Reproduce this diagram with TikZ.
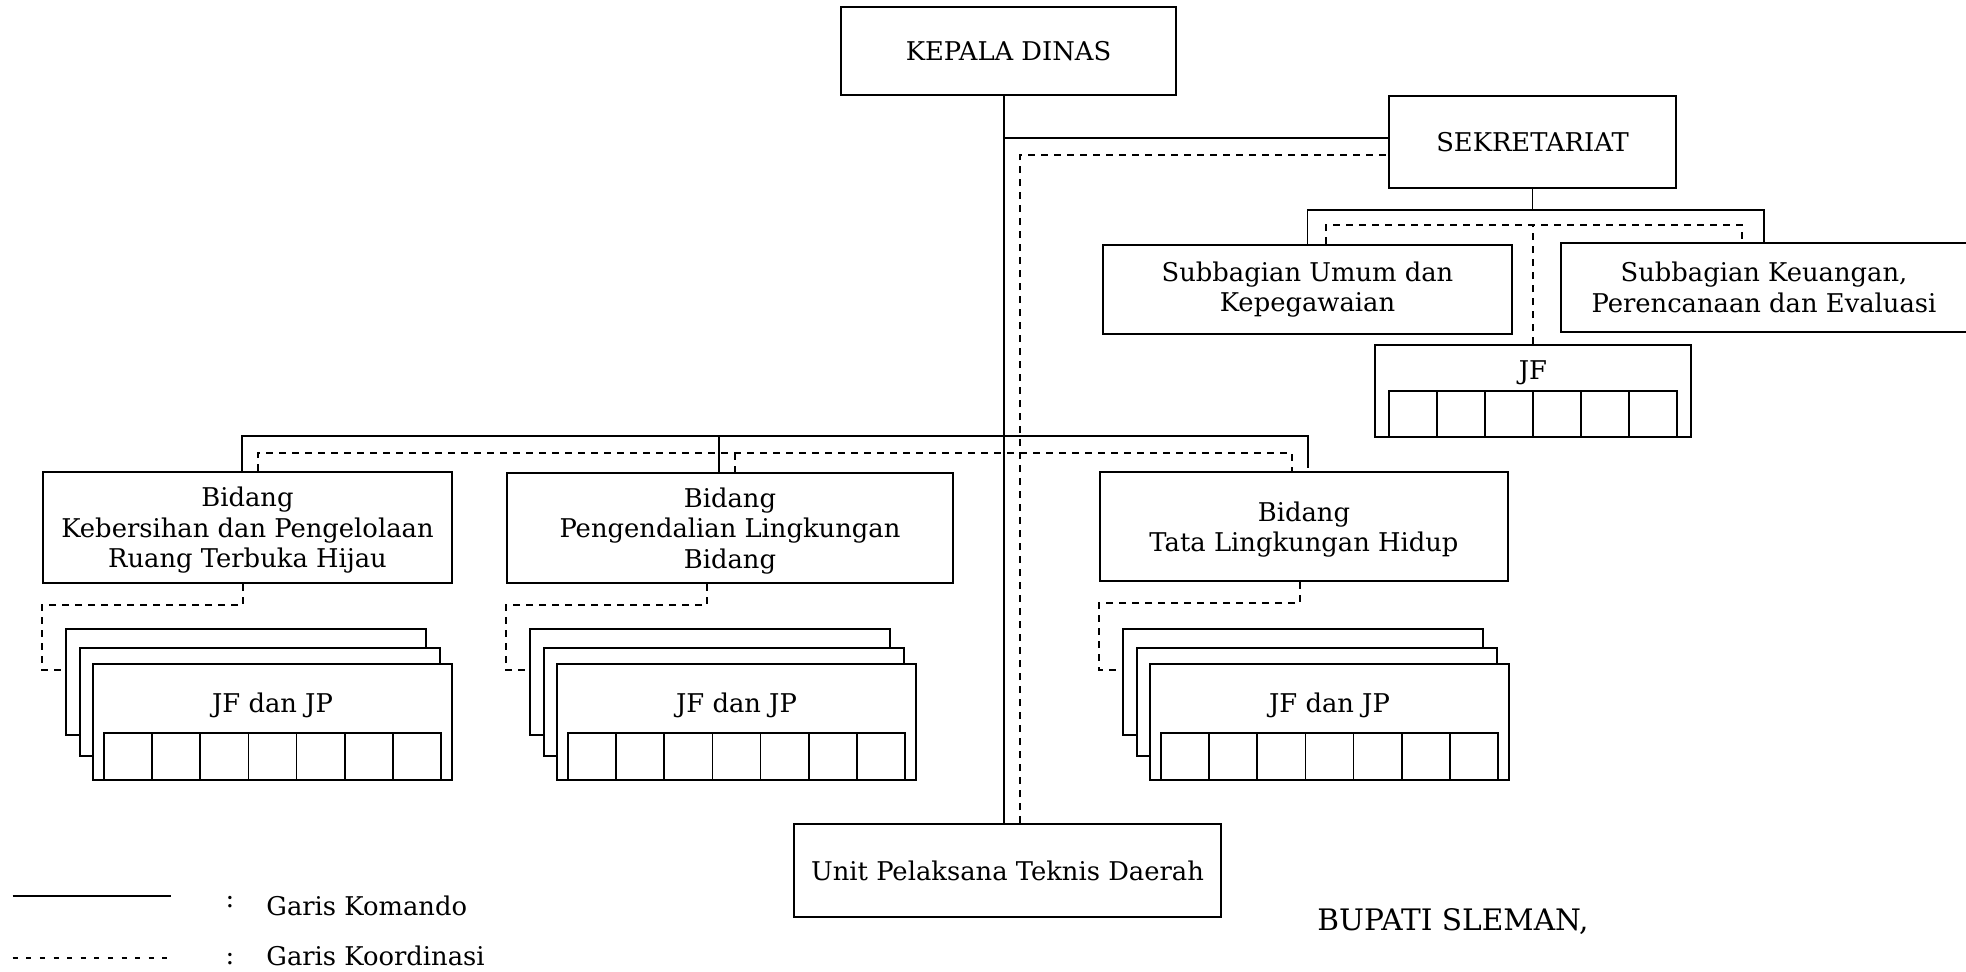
\documentclass[tikz,border=0pt]{standalone}
\usepackage{fontspec}
\setmainfont{DejaVu Serif}
\usepackage{tikz}
\newcommand{\teks}{\fontsize{12.9}{15.3}\selectfont}
\tikzset{
	kotak/.style={draw, line width=1pt, align=center, inner sep=0pt, font=\teks},
	lapis/.style={draw, fill=white, line width=1pt, inner sep=0pt},
	komando/.style={line width=0.75pt},
	koordinasi/.style={line width=0.75pt, dash pattern=on 3.5pt off 3pt},
	tulisan/.style={inner sep=0pt, font=\teks}
}

\begin{document}
\begin{tikzpicture}[x=0.5pt, y=-0.5pt]
		\useasboundingbox (0,0) rectangle (1966,971);

		% Draw the boxes
		\node[kotak, minimum width=167.5pt, minimum height=44pt] (kadis) at (1008.5,51) {KEPALA DINAS};
		\node[kotak, minimum width=143.5pt, minimum height=46pt] (sekre) at (1532.5,142) {SEKRETARIAT};
		\node[kotak, minimum width=204.5pt, minimum height=44.5pt] (umum) at (1307.5,289.5) {Subbagian Umum dan\\Kepegawaian};
		\node[kotak, minimum width=203pt, minimum height=44.5pt] (keu) at (1764,287.5) {Subbagian Keuangan,\\Perencanaan dan Evaluasi};
		\node[kotak, minimum width=158pt, minimum height=46pt] (jf) at (1533,391) {};
		\node[tulisan] (jf-t) at (1533,373) {JF};
		\node[kotak, text depth=0pt, minimum width=204.5pt, minimum height=55.5pt] (bid1) at (247.5,527.5) {Bidang\\Kebersihan dan Pengelolaan\\Ruang Terbuka Hijau};
		\node[kotak, text depth=0pt, minimum width=223pt, minimum height=55pt] (bid2) at (730,528) {Bidang\\Pengendalian Lingkungan\\Bidang};
		\node[kotak, text depth=0pt, minimum width=204pt, minimum height=54.5pt] (bid3) at (1304,526.5) {Bidang\\Tata Lingkungan Hidup};
		\node[kotak, minimum width=213.5pt, minimum height=46.5pt] (upt) at (1007.5,870.5) {Unit Pelaksana Teknis Daerah};

		% Draw the cells of JF
		\foreach \i in {0,...,5}
			\draw[line width=0.9pt] (1389+\i*48,391) rectangle ++(48,46);

		% Draw the stacks of JF dan JP
		\foreach \b/\L in {bid1/43,bid2/507,bid3/1100}{
			\node[lapis, minimum width=180pt, minimum height=53pt] (\b-a) at (\L+203,682) {};
			\node[lapis, minimum width=180pt, minimum height=54pt] (\b-b) at (\L+217,702) {};
			\node[lapis, minimum width=179.5pt, minimum height=58pt] (\b-c) at (\L+229.5,722) {};
			\node[tulisan] (\b-jf) at (\L+229.5,705) {JF dan JP};
			\foreach \i in {0,...,6}
				\draw[line width=0.9pt] (\L+61+\i*48.14,733) rectangle ++(48.14,47);
			\draw[koordinasi] ([xshift=100.5pt]\b.south west) -- ++(0,21)
				-| ([xshift=-11.5pt,yshift=6pt]\b-a.west) -- ([yshift=6pt]\b-a.west);
		}

		% Draw the garis komando
		\coordinate (trunk) at (1004,138);
		\draw[komando] (kadis.south -| trunk) -- (upt.north -| trunk);
		\draw[komando] (trunk) -- (trunk -| sekre.west);
		\draw[komando] (sekre.south) -- ++(0,21) coordinate (sekbus);
		\draw[komando] (umum.north) |- (sekbus) -| (keu.north);
		\coordinate (bidbus) at (242,436);
		\draw[komando] (bid1.north -| bidbus) -- (bidbus) -- (1308,436) -- (1308,468);
		\draw[komando] (719,436) -- (bid2.north -| 719,0);

		% Draw the garis koordinasi
		\coordinate (dash) at (1020,155);
		\draw[koordinasi] (upt.north -| dash) -- (dash) -- (dash -| sekre.west);
		\draw[koordinasi] (umum.north -| 1326,0) -- (1326,225) -- (1742,225) -- (keu.north -| 1742,0);
		\draw[koordinasi] (jf.north) -- (1533,225);
		\draw[koordinasi] (bid1.north -| 258,0) -- (258,453) -- (1292,453) -- (bid3.north -| 1292,0);
		\draw[koordinasi] (735,453) -- (bid2.north -| 735,0);

		% Legend
		\draw[komando] (12.7,896) -- (170.7,896);
		\draw[line width=0.6pt, dash pattern=on 2.5pt off 4.3pt] (12.7,958) -- (170.7,958);
		\node[tulisan, anchor=base] (kol1) at (230,907) {:};
		\node[tulisan, anchor=base] (kol2) at (230,964) {:};
		\node[tulisan, anchor=base west] (kmd) at (266,915) {Garis Komando};
		\node[tulisan, anchor=base west] (krd) at (266,965) {Garis Koordinasi};

		% Signature
		\node[inner sep=0pt, font=\fontsize{14.8}{17}\selectfont, anchor=base west] (bupati) at (1317,930) {BUPATI SLEMAN,};
	\end{tikzpicture}
\end{document}
